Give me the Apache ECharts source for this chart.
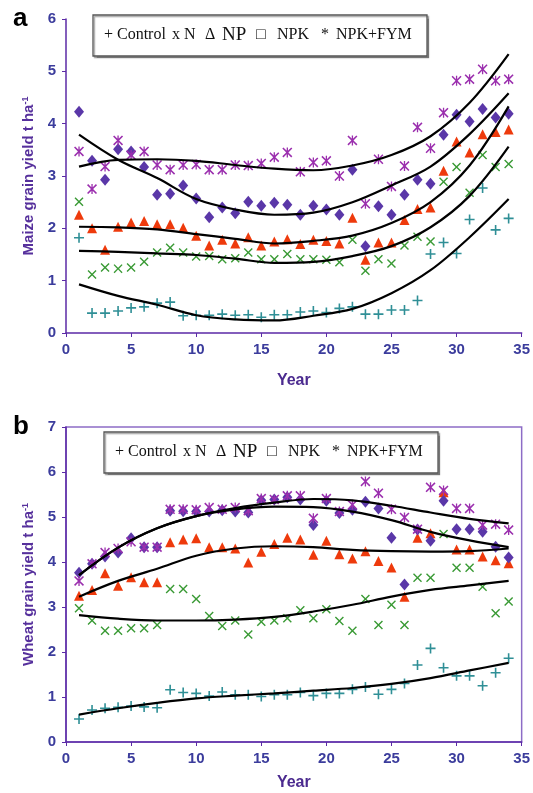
<!DOCTYPE html>
<html>
<head>
<meta charset="utf-8">
<title>Maize and wheat grain yield</title>
<script src="https://cdn.jsdelivr.net/npm/echarts@6/dist/echarts.min.js"></script>
<style>
  html, body { margin: 0; padding: 0; background: #fff; }
  #chart { width: 533px; height: 793px; }
</style>
</head>
<body>
<div id="chart"></div>
<script>
// years of the experiment
const years = [1, 2, 3, 4, 5, 6, 7, 8, 9, 10, 11, 12, 13, 14, 15, 16, 17,
  18, 19, 20, 21, 22, 23, 24, 25, 26, 27, 28, 29, 30, 31, 32, 33, 34];
const fitYears = [1, 4, 7, 10, 13, 16, 19, 22, 25, 28, 31, 34];

// a: maize grain yield (t/ha)
const maizeControl = [1.82, 0.38, 0.38, 0.42, 0.48, 0.50, 0.57, 0.59, 0.33, 0.34, 0.34, 0.36, 0.34, 0.35, 0.30, 0.35, 0.35,
  0.40, 0.42, 0.39, 0.47, 0.50, 0.36, 0.36, 0.44, 0.44, 0.62, 1.51, 1.73, 1.52, 2.17, 2.77, 1.97, 2.19];
const maizeN = [2.51, 1.12, 1.25, 1.23, 1.25, 1.36, 1.54, 1.63, 1.54, 1.46, 1.47, 1.41, 1.43, 1.54, 1.41, 1.41, 1.51,
  1.41, 1.41, 1.40, 1.35, 1.78, 1.19, 1.41, 1.33, 1.67, 1.84, 1.75, 2.89, 3.17, 2.68, 3.40, 3.17, 3.23];
const maizeNP = [2.26, 2.00, 1.59, 2.03, 2.11, 2.14, 2.08, 2.08, 2.01, 1.86, 1.67, 1.78, 1.71, 1.83, 1.67, 1.75, 1.79,
  1.70, 1.78, 1.76, 1.71, 2.20, 1.40, 1.73, 1.73, 2.16, 2.37, 2.40, 3.10, 3.66, 3.45, 3.80, 3.84, 3.89];
const maizeNPK = [4.23, 3.29, 2.93, 3.51, 3.47, 3.17, 2.64, 2.66, 2.82, 2.57, 2.21, 2.40, 2.29, 2.51, 2.43, 2.49, 2.45,
  2.26, 2.43, 2.36, 2.26, 3.12, 1.66, 2.42, 2.26, 2.64, 2.93, 2.85, 3.79, 4.17, 4.04, 4.28, 4.12, 4.19];
const maizeFYM = [3.47, 2.75, 3.18, 3.68, 3.40, 3.47, 3.21, 3.12, 3.21, 3.22, 3.12, 3.12, 3.21, 3.20, 3.24, 3.36, 3.45,
  3.08, 3.26, 3.29, 3.00, 3.68, 2.47, 3.32, 2.80, 3.19, 3.93, 3.53, 4.21, 4.82, 4.85, 5.04, 4.82, 4.85];

const maizeFitControl = [0.93, 0.71, 0.54, 0.34, 0.26, 0.24, 0.33, 0.46, 0.76, 1.20, 1.83, 2.56];
const maizeFitN = [1.57, 1.55, 1.52, 1.49, 1.42, 1.34, 1.36, 1.47, 1.66, 2.02, 2.62, 3.56];
const maizeFitNP = [2.03, 2.02, 1.98, 1.89, 1.80, 1.71, 1.76, 1.86, 2.10, 2.50, 3.20, 4.33];
const maizeFitNPK = [3.79, 3.31, 2.96, 2.56, 2.36, 2.26, 2.30, 2.50, 2.82, 3.18, 3.80, 4.58];
const maizeFitFYM = [3.18, 3.31, 3.32, 3.29, 3.21, 3.14, 3.11, 3.20, 3.40, 3.76, 4.40, 5.33];

// b: wheat grain yield (t/ha)
const wheatControl = [0.51, 0.71, 0.75, 0.77, 0.80, 0.78, 0.76, 1.16, 1.10, 1.08, 1.02, 1.11, 1.05, 1.05, 1.01, 1.05, 1.05,
  1.10, 1.03, 1.08, 1.08, 1.17, 1.22, 1.06, 1.17, 1.30, 1.71, 2.08, 1.65, 1.47, 1.47, 1.25, 1.54, 1.86];
const wheatN = [2.97, 2.70, 2.47, 2.47, 2.53, 2.53, 2.60, 3.40, 3.40, 3.18, 2.80, 2.58, 2.70, 2.39, 2.67, 2.70, 2.75,
  2.93, 2.75, 2.95, 2.69, 2.47, 3.18, 2.60, 3.05, 2.60, 3.65, 3.65, 4.62, 3.87, 3.87, 3.45, 2.86, 3.12];
const wheatNP = [3.25, 3.38, 3.75, 3.47, 3.66, 3.55, 3.55, 4.44, 4.50, 4.53, 4.33, 4.33, 4.30, 3.99, 4.23, 4.40, 4.54,
  4.50, 4.16, 4.47, 4.17, 4.08, 4.24, 4.02, 3.88, 3.23, 4.54, 4.64, 5.55, 4.28, 4.28, 4.12, 4.04, 3.97];
const wheatNPK = [3.76, 3.96, 4.12, 4.21, 4.53, 4.33, 4.33, 5.14, 5.13, 5.12, 5.12, 5.15, 5.12, 5.10, 5.37, 5.39, 5.44,
  5.39, 4.82, 5.36, 5.09, 5.16, 5.34, 5.19, 4.54, 3.50, 4.72, 4.47, 5.36, 4.73, 4.73, 4.67, 4.34, 4.10];
const wheatFYM = [3.58, 3.96, 4.21, 4.30, 4.45, 4.33, 4.33, 5.17, 5.17, 5.16, 5.21, 5.17, 5.21, 5.14, 5.41, 5.39, 5.47,
  5.47, 4.97, 5.41, 5.12, 5.27, 5.79, 5.53, 5.17, 4.99, 4.73, 5.66, 5.59, 5.19, 5.19, 4.82, 4.84, 4.71];

const wheatFitControl = [0.61, 0.75, 0.87, 0.97, 1.03, 1.08, 1.14, 1.20, 1.29, 1.42, 1.59, 1.76];
const wheatFitN = [2.82, 2.74, 2.70, 2.70, 2.72, 2.78, 2.90, 3.05, 3.23, 3.38, 3.48, 3.58];
const wheatFitNP = [3.23, 3.58, 3.85, 4.14, 4.30, 4.35, 4.33, 4.27, 4.24, 4.23, 4.24, 4.30];
const wheatFitNPK = [3.71, 4.32, 4.75, 5.02, 5.17, 5.23, 5.22, 5.12, 4.93, 4.67, 4.48, 4.33];
const wheatFitFYM = [3.71, 4.32, 4.75, 5.02, 5.20, 5.32, 5.40, 5.37, 5.25, 5.10, 4.96, 4.86];

// marker shapes
const plusPath = 'path://M4.2,0H5.8V4.2H10V5.8H5.8V10H4.2V5.8H0V4.2H4.2Z';
const crossPath = 'path://M0,1.1L1.1,0L5,3.9L8.9,0L10,1.1L6.1,5L10,8.9L8.9,10L5,6.1L1.1,10L0,8.9L3.9,5Z';
const starPath = 'path://M0,1.1L1.1,0L5,3.9L8.9,0L10,1.1L6.1,5L10,8.9L8.9,10L5,6.1L1.1,10L0,8.9L3.9,5Z M4.35,0H5.65V10H4.35Z';

const treatments = [
  { name: 'Control', symbol: plusPath, size: 10, color: '#2f8f96' },
  { name: 'N', symbol: crossPath, size: 9, color: '#3a9a35' },
  { name: 'NP', symbol: 'triangle', size: 10, color: '#ee3a0c' },
  { name: 'NPK', symbol: 'diamond', size: [10, 12], color: '#5a37a8' },
  { name: 'NPK+FYM', symbol: starPath, size: 10, color: '#9b2fae' }
];

const axisPurple = '#5b2aa6';
const labelBlue = '#3b3c9c';

function pairs(xs, ys) {
  return xs.map((x, i) => [x, ys[i]]);
}

function panelSeries(idx, points, fits) {
  const out = [];
  treatments.forEach((t, i) => {
    out.push({
      name: t.name,
      type: 'scatter',
      xAxisIndex: idx,
      yAxisIndex: idx,
      symbol: t.symbol,
      symbolSize: t.size,
      itemStyle: { color: t.color, opacity: 1 },
      data: pairs(years, points[i]),
      z: 2
    });
  });
  fits.forEach((f) => {
    out.push({
      type: 'line',
      xAxisIndex: idx,
      yAxisIndex: idx,
      smooth: 0.35,
      showSymbol: false,
      lineStyle: { color: '#000', width: 2.2 },
      data: pairs(fitYears, f),
      z: 3
    });
  });
  return out;
}

function xAxisFor(idx, gap) {
  return {
    type: 'value',
    gridIndex: idx,
    min: 0,
    max: 35,
    interval: 5,
    name: 'Year',
    nameLocation: 'middle',
    nameGap: gap,
    nameTextStyle: { color: '#4b2a8f', fontWeight: 'bold', fontSize: 16, fontFamily: 'Liberation Sans' },
    axisLine: { show: true, onZero: false, lineStyle: { color: axisPurple, width: 1.5 } },
    axisTick: { show: true, length: 4, lineStyle: { color: axisPurple } },
    axisLabel: { color: labelBlue, fontWeight: 'bold', fontSize: 15, fontFamily: 'Liberation Sans', margin: 9 },
    splitLine: { show: false }
  };
}

function yAxisFor(idx, max, title) {
  return {
    type: 'value',
    gridIndex: idx,
    min: 0,
    max: max,
    interval: 1,
    name: '{t|' + title + '}{s|-1}',
    nameLocation: 'middle',
    nameRotate: 90,
    nameGap: 25,
    nameTextStyle: {
      rich: {
        t: { color: '#56309c', fontWeight: 'bold', fontSize: 15, fontFamily: 'Liberation Sans' },
        s: { color: '#56309c', fontWeight: 'bold', fontSize: 9, fontFamily: 'Liberation Sans', verticalAlign: 'top', padding: [0, 0, 8, 0] }
      }
    },
    axisLine: { show: true, lineStyle: { color: axisPurple, width: 1.5 } },
    axisTick: { show: true, length: 4, lineStyle: { color: axisPurple } },
    axisLabel: { color: labelBlue, fontWeight: 'bold', fontSize: 15, fontFamily: 'Liberation Sans', margin: 10 },
    splitLine: { show: false }
  };
}

// legend drawn like the printed key: text glyphs inside a box
function legendBox(left, top) {
  const serif = 'Liberation Serif';
  const cy = top + 20;
  const parts = [
    ['+', 11, 16], ['Control', 24, 16], ['x', 79, 16], ['N', 91, 16],
    ['\u0394', 112, 16], ['NP', 129, 19], ['\u25a1', 163, 16], ['NPK', 184, 16],
    ['*', 228, 16], ['NPK+FYM', 243, 16]
  ];
  const children = [{
    type: 'rect',
    shape: { x: left, y: top, width: 334, height: 41 },
    style: { fill: '#fff', stroke: '#555', lineWidth: 1.3, shadowColor: 'rgba(0,0,0,0.35)', shadowOffsetX: 1.5, shadowOffsetY: 1.5, shadowBlur: 1 }
  }];
  parts.forEach(p => {
    children.push({
      type: 'text',
      x: left + p[1],
      y: cy,
      style: { text: p[0], fill: '#111', font: p[2] + 'px "' + serif + '"', verticalAlign: 'middle', align: 'left' }
    });
  });
  return { type: 'group', children: children, z: 10 };
}

const chart = echarts.init(document.getElementById('chart'), null, { renderer: 'canvas' });

chart.setOption({
  animation: false,
  backgroundColor: '#fff',
  grid: [
    { left: 66, top: 19, width: 456, height: 314, show: false },
    { left: 66, top: 427, width: 456, height: 315, show: true, borderColor: '#8d6cc6', borderWidth: 1.5, backgroundColor: 'transparent' }
  ],
  xAxis: [xAxisFor(0, 40), xAxisFor(1, 33)],
  yAxis: [
    yAxisFor(0, 6, 'Maize grain yield t ha'),
    yAxisFor(1, 7, 'Wheat grain yield t ha')
  ],
  graphic: [
    { type: 'text', left: 13, top: 6, style: { text: 'a', font: 'bold 26px "Liberation Sans"', fill: '#000' } },
    { type: 'text', left: 13, top: 414, style: { text: 'b', font: 'bold 26px "Liberation Sans"', fill: '#000' } },
    legendBox(93, 15),
    legendBox(104, 432)
  ],
  series: [].concat(
    panelSeries(0,
      [maizeControl, maizeN, maizeNP, maizeNPK, maizeFYM],
      [maizeFitControl, maizeFitN, maizeFitNP, maizeFitNPK, maizeFitFYM]),
    panelSeries(1,
      [wheatControl, wheatN, wheatNP, wheatNPK, wheatFYM],
      [wheatFitControl, wheatFitN, wheatFitNP, wheatFitNPK, wheatFitFYM])
  )
});
</script>
</body>
</html>
